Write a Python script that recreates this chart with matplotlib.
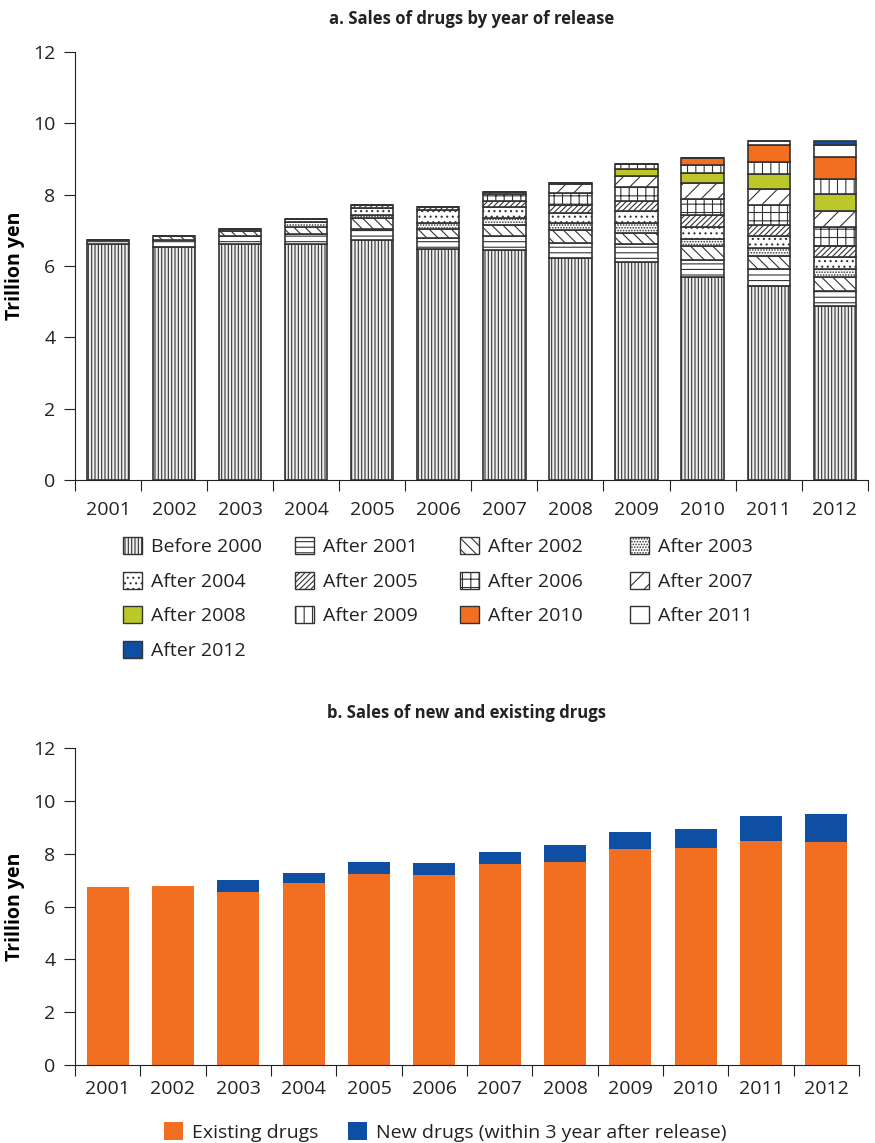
import numpy as np
import matplotlib
matplotlib.use("Agg")
import matplotlib.pyplot as plt
from matplotlib.patches import Patch

plt.rcParams["font.family"] = ["Open Sans", "DejaVu Sans"]
plt.rcParams["hatch.linewidth"] = 0.8

years = ["2001", "2002", "2003", "2004", "2005", "2006",
         "2007", "2008", "2009", "2010", "2011", "2012"]

# sales (trillion yen) split by the year each drug was released
before_2000 = [6.62, 6.52, 6.63, 6.62, 6.73, 6.47, 6.46, 6.22, 6.11, 5.69, 5.43, 4.87]
after_2001 = [0.12, 0.21, 0.21, 0.28, 0.31, 0.31, 0.39, 0.43, 0.51, 0.48, 0.48, 0.44]
after_2002 = [0, 0.11, 0.15, 0.20, 0.30, 0.26, 0.31, 0.36, 0.30, 0.40, 0.38, 0.39]
after_2003 = [0, 0, 0.06, 0.14, 0.09, 0.16, 0.20, 0.19, 0.28, 0.20, 0.21, 0.21]
after_2004 = [0, 0, 0, 0.09, 0.21, 0.37, 0.29, 0.29, 0.35, 0.33, 0.34, 0.33]
after_2005 = [0, 0, 0, 0, 0.06, 0.08, 0.17, 0.22, 0.28, 0.33, 0.31, 0.32]
after_2006 = [0, 0, 0, 0, 0, 0, 0.21, 0.33, 0.38, 0.45, 0.56, 0.54]
after_2007 = [0, 0, 0, 0, 0, 0, 0.05, 0.25, 0.31, 0.44, 0.44, 0.45]
after_2008 = [0, 0, 0, 0, 0, 0, 0, 0.03, 0.20, 0.30, 0.42, 0.47]
after_2009 = [0, 0, 0, 0, 0, 0, 0, 0, 0.14, 0.22, 0.36, 0.42]
after_2010 = [0, 0, 0, 0, 0, 0, 0, 0, 0, 0.19, 0.45, 0.61]
after_2011 = [0, 0, 0, 0, 0, 0, 0, 0, 0, 0, 0.13, 0.33]
after_2012 = [0, 0, 0, 0, 0, 0, 0, 0, 0, 0, 0, 0.13]

cohort_labels = ["Before 2000", "After 2001", "After 2002", "After 2003",
                 "After 2004", "After 2005", "After 2006", "After 2007",
                 "After 2008", "After 2009", "After 2010", "After 2011",
                 "After 2012"]

# new vs existing drugs (trillion yen)
existing = [6.74, 6.79, 6.56, 6.90, 7.24, 7.20, 7.62, 7.70, 8.19, 8.23, 8.49, 8.45]
new_drugs = [0.0, 0.0, 0.46, 0.38, 0.46, 0.46, 0.46, 0.64, 0.64, 0.72, 0.95, 1.06]

ORANGE = "#f26f21"
BLUE = "#0e4fa3"
GREEN = "#bcc82a"
EDGE = "#333333"

cohorts = [before_2000, after_2001, after_2002, after_2003, after_2004,
           after_2005, after_2006, after_2007, after_2008, after_2009,
           after_2010, after_2011, after_2012]
styles = [
    dict(facecolor="#eeeeee", hatch="|||||"),
    dict(facecolor="white", hatch="---"),
    dict(facecolor="white", hatch="\\\\\\"),
    dict(facecolor="white", hatch="......"),
    dict(facecolor="white", hatch="..."),
    dict(facecolor="white", hatch="//////"),
    dict(facecolor="white", hatch="++"),
    dict(facecolor="white", hatch="//"),
    dict(facecolor=GREEN, hatch=None),
    dict(facecolor="white", hatch="||"),
    dict(facecolor=ORANGE, hatch=None),
    dict(facecolor="white", hatch=None),
    dict(facecolor=BLUE, hatch=None),
]

fig = plt.figure(figsize=(8.75, 11.43), dpi=100)


def style_axes(ax, n, label_pad):
    ax.spines["top"].set_visible(False)
    ax.spines["right"].set_visible(False)
    ax.spines["left"].set_color("#222222")
    ax.spines["bottom"].set_color("#222222")
    ax.set_xlim(0, n)
    ax.set_ylim(0, 12)
    ax.set_yticks(range(0, 13, 2))
    ax.set_xticks(np.arange(n + 1))
    ax.set_xticklabels([])
    ax.set_xticks(np.arange(n) + 0.5, minor=True)
    ax.set_xticklabels(years, minor=True)
    ax.tick_params(axis="x", which="minor", length=0, pad=label_pad,
                   labelsize=14, colors="#222222")
    ax.tick_params(axis="x", which="major", length=8, direction="out",
                   color="#222222")
    ax.tick_params(axis="y", length=8, direction="out", labelsize=14,
                   pad=6, color="#222222", labelcolor="#222222")
    ax.set_ylabel("Trillion yen", fontsize=14, fontweight="bold", labelpad=6)


# a. stacked cohorts
ax1 = fig.add_axes([0.0857, 0.580, 0.906, 0.3745])
x = np.arange(len(years)) + 0.5
bottom = np.zeros(len(years))
for vals, st in zip(cohorts, styles):
    vals = np.array(vals)
    ax1.bar(x, vals, width=0.64, bottom=bottom, edgecolor=EDGE,
            linewidth=1.2, **st)
    bottom += vals
style_axes(ax1, len(years), 15)
ax1.set_title("a. Sales of drugs by year of release", fontsize=12,
              fontweight="bold", pad=20, color="#222222")

# legend laid out row by row, one legend per column
col_x = [123, 295, 460, 630]
for c, cx in enumerate(col_x):
    idx = list(range(c, len(cohorts), 4))
    handles = [Patch(edgecolor=EDGE, linewidth=1.0, **styles[i]) for i in idx]
    labels = [cohort_labels[i] for i in idx]
    leg = fig.legend(handles, labels, ncol=1, loc="upper left",
                     bbox_to_anchor=(cx / 875, 1 - 537 / 1143), frameon=False,
                     fontsize=14, handlelength=1.0, handleheight=1.0,
                     handletextpad=0.45, labelspacing=0.78,
                     borderpad=0, borderaxespad=0, labelcolor="#222222")

# b. new vs existing
ax2 = fig.add_axes([0.0857, 0.0682, 0.896, 0.2773])
x2 = np.arange(len(years)) + 0.5
ax2.bar(x2, existing, width=0.64, color=ORANGE, label="Existing drugs")
ax2.bar(x2, new_drugs, width=0.64, bottom=existing, color=BLUE,
        label="New drugs (within 3 year after release)")
style_axes(ax2, len(years), 11)
ax2.set_title("b. Sales of new and existing drugs", fontsize=12,
              fontweight="bold", pad=22, color="#222222")
fig.legend(*ax2.get_legend_handles_labels(), ncol=2, loc="center",
           bbox_to_anchor=(445 / 875, 1 - 1132 / 1143), frameon=False,
           fontsize=14, handlelength=1.0, handleheight=1.0,
           handletextpad=0.45, columnspacing=1.5, borderpad=0,
           labelcolor="#222222")

fig.savefig("out.png", dpi=100)
